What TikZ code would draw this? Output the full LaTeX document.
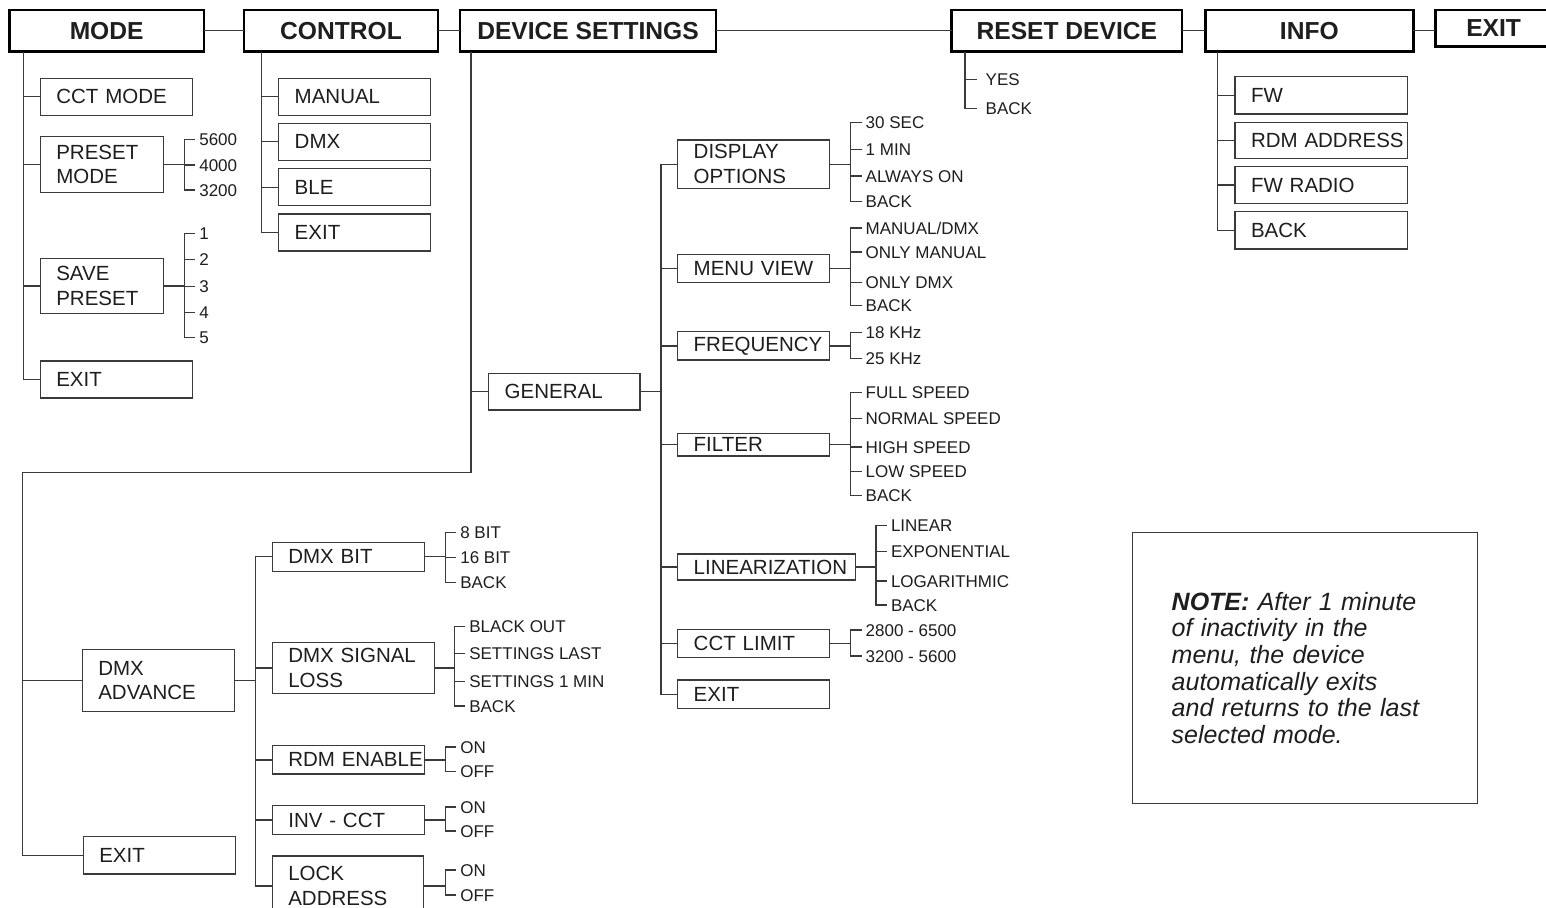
\documentclass[tikz,border=0pt]{standalone}
\usepackage{fontspec}
\setmainfont{Liberation Sans}
\usetikzlibrary{calc}
\definecolor{lncol}{HTML}{3A3A3A}
\definecolor{txtcol}{HTML}{1E1E1E}
\newcommand\fBox{\fontsize{20.5}{24.5}\selectfont\hyphenpenalty=10000\exhyphenpenalty=10000\hbadness=10000\hfuzz=100pt\relax}
\newcommand\fLbl{\fontsize{17}{20}\selectfont}
\newcommand\fHdr{\fontsize{24.6}{28}\selectfont\bfseries}
\newcommand\fNote{\fontsize{25}{26.7}\selectfont\itshape\hyphenpenalty=10000\relax}
% option group: #1 parent node, #2 bracket x, #3 number of options, #4 list y/text
\newcommand\optgroup[4]{%
  \coordinate (#1-bx) at (#2,0);
  \foreach \yy/\lt [count=\i] in {#4} {\node[lbl] (#1-\i) at ({#2+11},\yy) {\lt};}
  \draw[ln] (#1.east) -- (#1.east -| #1-bx);
  \draw[ln] (#1-1.west) -- (#1-1.west -| #1-bx) -- (#1-#3.west -| #1-bx) -- (#1-#3.west);
  \foreach \i in {1,...,#3} {\draw[ln] (#1-\i.west -| #1-bx) -- (#1-\i.west);}
}
\begin{document}
\begin{tikzpicture}[x=1pt,y=-1pt,
  hdr/.style={draw=black, line width=2.6pt, fill=white, anchor=north west, inner sep=0pt, outer sep=0pt, font=\fHdr, text=txtcol},
  mbox/.style={draw=lncol, line width=1.3pt, anchor=north west, inner xsep=16pt, inner ysep=0pt, outer sep=0pt, align=left, font=\fBox, text=txtcol},
  lbl/.style={anchor=west, inner xsep=4pt, inner ysep=0pt, outer sep=0pt, font=\fLbl, text=txtcol, text height=12.2pt, text depth=0pt},
  ln/.style={draw=lncol, line width=1.3pt},
  notebox/.style={draw=lncol, line width=1.3pt, anchor=north west, inner xsep=39.4pt, inner ysep=0pt, outer sep=0pt, align=left, font=\fNote, text=txtcol}
]
\useasboundingbox (0,0) rectangle (1546,907);
\clip (0,0) rectangle (1546,907);
\fill[white] (0,0) rectangle (1546,907);

% ---------- headers ----------
\node[hdr, minimum width=194.7pt, minimum height=41.7pt] (mode) at (9.3,10) {MODE};
\node[hdr, minimum width=194pt, minimum height=41.7pt] (control) at (244,10) {CONTROL};
\node[hdr, minimum width=256pt, minimum height=41.7pt] (devset) at (460,10) {DEVICE SETTINGS};
\node[hdr, minimum width=230.3pt, minimum height=41.7pt] (reset) at (951.7,10) {RESET DEVICE};
\node[hdr, minimum width=208pt, minimum height=41.7pt] (info) at (1205.3,10) {INFO};
\node[hdr, minimum width=116.7pt, minimum height=36.7pt] (exith) at (1435.3,10) {EXIT};

\draw[ln] (mode.east) -- (control.west);
\draw[ln] (control.east) -- (devset.west);
\draw[ln] (devset.east) -- (reset.west);
\draw[ln] (reset.east) -- (info.west);
\draw[ln] (info.east) -- (info.east -| exith.west);

% ---------- MODE ----------
\node[mbox, text width=120pt, minimum height=37pt] (cct) at (40.3,78.3) {CCT~MODE};
\node[mbox, text width=91pt, minimum height=55.6pt] (preset) at (40.3,136.7) {PRESET\\MODE};
\node[mbox, text width=91pt, minimum height=55.4pt] (save) at (40.3,258.3) {SAVE\\PRESET};
\node[mbox, text width=120pt, minimum height=37pt] (mexit) at (40.3,361) {EXIT};
\coordinate (mt) at ($(mode.south west)+(14,0)$);
\draw[ln] (mt) |- (mexit.west);
\foreach \n in {cct,preset,save} {\draw[ln] (mt |- \n.west) -- (\n.west);}
\optgroup{preset}{184.3}{3}{139.7/5600, 165/4000, 190/3200}
\optgroup{save}{184.3}{5}{233.3/1, 259.3/2, 286.7/3, 312.3/4, 337.3/5}

% ---------- CONTROL ----------
\node[mbox, text width=120pt, minimum height=37pt] (cman) at (278.7,78.3) {MANUAL};
\node[mbox, text width=120pt, minimum height=37pt] (cdmx) at (278.7,123.3) {DMX};
\node[mbox, text width=120pt, minimum height=37pt] (cble) at (278.7,168.7) {BLE};
\node[mbox, text width=120pt, minimum height=37pt] (cexit) at (278.7,214) {EXIT};
\coordinate (ct) at ($(control.south west)+(17.7,0)$);
\draw[ln] (ct) |- (cexit.west);
\foreach \n in {cman,cdmx,cble} {\draw[ln] (ct |- \n.west) -- (\n.west);}

% ---------- RESET ----------
\node[lbl, inner xsep=9pt] (ryes) at (976.7,79.3) {YES};
\node[lbl, inner xsep=9pt] (rback) at (976.7,108.7) {BACK};
\coordinate (rt) at ($(reset.south west)+(13.3,0)$);
\draw[ln] (rt) |- (rback.west);
\draw[ln] (rt |- ryes.west) -- (ryes.west);

% ---------- INFO ----------
\node[mbox, text width=140.7pt, minimum height=37.7pt] (ifw) at (1235,76.3) {FW};
\node[mbox, text width=140.7pt, minimum height=35.6pt] (irdm) at (1235,122.7) {RDM~ADDRESS};
\node[mbox, text width=140.7pt, minimum height=36.6pt] (ifwr) at (1235,166.7) {FW~RADIO};
\node[mbox, text width=140.7pt, minimum height=37.3pt] (iback) at (1235,211.7) {BACK};
\coordinate (it) at ($(info.south west)+(12.4,0)$);
\draw[ln] (it) |- (iback.west);
\foreach \n in {ifw,irdm,ifwr} {\draw[ln] (it |- \n.west) -- (\n.west);}

% ---------- DEVICE SETTINGS ----------
\node[mbox, text width=119.3pt, minimum height=36.7pt] (general) at (488.7,373.3) {GENERAL};
\node[mbox, text width=120pt, minimum height=62.4pt] (dmxadv) at (82.3,649.3) {DMX\\ADVANCE};
\node[mbox, text width=120.4pt, minimum height=37.3pt] (dexit) at (83.3,836.7) {EXIT};
\coordinate (dt) at ($(devset.south west)+(11,0)$);
\coordinate (dturn) at (dt |- 0,472.3);
\coordinate (dleft) at (22.7,472.3);
\draw[ln] (dt) -- (dturn) -- (dleft) |- (dexit.west);
\draw[ln] (dt |- general.west) -- (general.west);
\draw[ln] (dleft |- dmxadv.west) -- (dmxadv.west);

% GENERAL children
\node[mbox, text width=119.6pt, minimum height=48.3pt] (dispopt) at (677.7,140) {DISPLAY\\OPTIONS};
\node[mbox, text width=119.6pt, minimum height=28pt] (menuview) at (677.7,254.3) {MENU~VIEW};
\node[mbox, text width=119.6pt, minimum height=28.3pt] (freq) at (677.7,331.7) {FREQUENCY};
\node[mbox, text width=119.6pt, minimum height=22.7pt] (filter) at (677.7,433.3) {FILTER};
\node[mbox, text width=145.6pt, minimum height=26pt] (lin) at (677.7,554) {LINEARIZATION};
\node[mbox, text width=119.6pt, minimum height=28.4pt] (cctlim) at (677.7,629.3) {CCT~LIMIT};
\node[mbox, text width=119.6pt, minimum height=28.7pt] (gexit) at (677.7,680) {EXIT};
\coordinate (gt) at (661,0);
\draw[ln] (general.east) -- (general.east -| gt);
\draw[ln] (dispopt.west) -- (dispopt.west -| gt) -- (gexit.west -| gt) -- (gexit.west);
\foreach \n in {menuview,freq,filter,lin,cctlim} {\draw[ln] (gt |- \n.west) -- (\n.west);}
\optgroup{dispopt}{850.7}{4}{122.7/30 SEC, 149.3/1 MIN, 176/ALWAYS ON, 201.7/BACK}
\optgroup{menuview}{850.7}{4}{228/{MANUAL/DMX}, 252/ONLY MANUAL, 282.5/ONLY DMX, 305.5/BACK}
\optgroup{freq}{850.7}{2}{332.3/18 KHz, 358.3/25 KHz}
\optgroup{filter}{850.7}{5}{392.7/FULL SPEED, 418.5/NORMAL SPEED, 447/HIGH SPEED, 471.7/LOW SPEED, 495.5/BACK}
\optgroup{lin}{876}{4}{525.7/LINEAR, 551.7/EXPONENTIAL, 581/LOGARITHMIC, 605/BACK}
\optgroup{cctlim}{850.7}{2}{630/2800 - 6500, 656/3200 - 5600}

% DMX ADVANCE children
\node[mbox, text width=120pt, minimum height=29pt] (dmxbit) at (272.3,542.3) {DMX~BIT};
\node[mbox, text width=130pt, minimum height=51.4pt] (sigloss) at (272.3,642.3) {DMX~SIGNAL\\LOSS};
\node[mbox, text width=120pt, minimum height=28.3pt] (rdmen) at (272.3,745.7) {RDM~ENABLE};
\node[mbox, text width=120pt, minimum height=28.6pt] (invcct) at (272.3,805.7) {INV~-~CCT};
\node[mbox, text width=119pt, minimum height=60pt] (lockaddr) at (272.3,856) {LOCK\\ADDRESS};
\coordinate (at) at (255.7,0);
\draw[ln] (dmxadv.east) -- (dmxadv.east -| at);
\draw[ln] (dmxbit.west) -- (dmxbit.west -| at) -- (lockaddr.west -| at) -- (lockaddr.west);
\foreach \n in {sigloss,rdmen,invcct} {\draw[ln] (at |- \n.west) -- (\n.west);}
\optgroup{dmxbit}{445.3}{3}{532.7/8 BIT, 557.3/16 BIT, 582.3/BACK}
\optgroup{sigloss}{454.3}{4}{626.7/BLACK OUT, 653.3/SETTINGS LAST, 681.7/SETTINGS 1 MIN, 706/BACK}
\optgroup{rdmen}{445.3}{2}{747/ON, 771.5/OFF}
\optgroup{invcct}{445.3}{2}{807/ON, 831/OFF}
\optgroup{lockaddr}{445.3}{2}{870/ON, 895/OFF}

% ---------- NOTE ----------
\node[notebox, text width=266.2pt, minimum height=271.4pt] (note) at (1132.3,532.3)
  {\textbf{NOTE:} After 1 minute\\of inactivity in the\\menu, the device\\automatically exits\\and returns to the last\\selected mode.};
\end{tikzpicture}
\end{document}
